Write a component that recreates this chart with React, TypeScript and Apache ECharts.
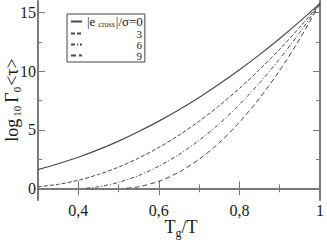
import React, { useEffect, useRef } from "react";
import * as echarts from "echarts";

// x values (Tg/T)
const tAll = [0.3, 0.35, 0.4, 0.45, 0.5, 0.55, 0.6, 0.65, 0.7, 0.75, 0.8, 0.85, 0.9, 0.95, 1.0];
const t6 = [0.42, 0.45, 0.5, 0.55, 0.6, 0.65, 0.7, 0.75, 0.8, 0.85, 0.9, 0.95, 1.0];
const t9 = [0.52, 0.55, 0.6, 0.65, 0.7, 0.75, 0.8, 0.85, 0.9, 0.95, 1.0];

// log10 Γ0<τ> for |e_cross|/σ = 0, 3, 6, 9
const v0 = [1.6, 2.1, 2.65, 3.3, 4.03, 4.85, 5.74, 6.71, 7.76, 8.9, 10.12, 11.42, 12.8, 14.26, 15.8];
const v3 = [0.13, 0.34, 0.69, 1.18, 1.81, 2.58, 3.49, 4.54, 5.73, 7.06, 8.53, 10.14, 11.88, 13.77, 15.8];
const v6 = [0.02, 0.13, 0.51, 1.09, 1.89, 2.89, 4.1, 5.52, 7.16, 9.0, 11.06, 13.32, 15.8];
const v9 = [0.01, 0.13, 0.6, 1.38, 2.48, 3.89, 5.64, 7.7, 10.08, 12.78, 15.8];

const seriesNames = ["0", "3", "6", "9"];

const xMajor = [0.4, 0.6, 0.8, 1.0];
const xMinor = [0.5, 0.7, 0.9];
const yMajor = [0, 5, 10, 15];
const yMinor = [2.5, 7.5, 12.5];

// axis titles as [text, isSubscript]
const xTitleParts: [string, boolean][] = [["T", false], ["g", true], ["/T", false]];
const yTitleParts: [string, boolean][] = [["log", false], ["10", true], ["Γ", false], ["0", true], ["<τ>", false]];

const FONT = "Liberation Serif";
const TEXT = "#1a1a1a";
const AXIS = "#7a7a7a";
const LINE = "#4a4a4a";

const zip = (xs: number[], ys: number[]) => xs.map((x, i) => [x, ys[i]]);

let ctx: CanvasRenderingContext2D | null = null;
const measure = (t: string, size: number) => {
  if (!ctx) ctx = document.createElement("canvas").getContext("2d");
  if (!ctx) return t.length * size * 0.5;
  ctx.font = `${size}px "${FONT}"`;
  return ctx.measureText(t).width;
};

// lay out a title with subscripts along a line
const layoutTitle = (parts: [string, boolean][], big: number, small: number, gapBefore: number[], center: number) => {
  const pieces = parts.map(([t, sub], i) => {
    const size = sub ? small : big;
    return { t, sub, size, w: measure(t, size), gap: gapBefore[i] || 0 };
  });
  const total = pieces.reduce((a, p) => a + p.w + p.gap, 0);
  let pos = center - total / 2;
  return pieces.map((p) => {
    pos += p.gap;
    const r = { ...p, pos };
    pos += p.w;
    return r;
  });
};

export default function App() {
  const ref = useRef<HTMLDivElement>(null);
  useEffect(() => {
    document.body.style.margin = "0";
    const chart = echarts.init(ref.current!, null, { renderer: "svg" });

    const majorTick = (vals: number[]) => ({
      show: true,
      inside: true,
      length: 7,
      customValues: vals,
      lineStyle: { color: AXIS, width: 1 },
    });
    const minorTickAxis = (vals: number[]) => ({
      show: true,
      inside: true,
      length: 4,
      customValues: vals,
      lineStyle: { color: AXIS, width: 1 },
    });

    const xBase = { type: "value", min: 0.3, max: 1, splitLine: { show: false } };
    const yBase = { type: "value", min: -1, max: 16, splitLine: { show: false } };

    const BIG = 18;
    const xPieces = layoutTitle(xTitleParts, BIG, 12, [0, 0, 0], 181);
    const xTitle = {
      type: "group",
      x: 0,
      y: 0,
      silent: true,
      children: xPieces.map((p) => ({
        type: "text",
        x: p.pos,
        y: p.sub ? 232.5 : 227,
        style: { text: p.t, fontSize: p.size, fontFamily: FONT, fill: TEXT, align: "left", verticalAlign: "middle" },
      })),
    };

    // y title rotated 90° anticlockwise, centred at y = 100
    const yPieces = layoutTitle(yTitleParts, BIG, 11, [0, 2, 3, 0, 1], -100);
    const yCenterLine = 12;
    const yTitle = {
      type: "group",
      x: 0,
      y: 0,
      rotation: Math.PI / 2,
      silent: true,
      children: yPieces.map((p) => ({
        type: "text",
        x: p.pos,
        y: p.sub ? yCenterLine + 5 : yCenterLine,
        style: { text: p.t, fontSize: p.size, fontFamily: FONT, fill: TEXT, align: "left", verticalAlign: "middle" },
      })),
    };

    const option: any = {
      animation: false,
      textStyle: { fontFamily: FONT },
      grid: { left: 38, right: 4, top: 1, bottom: 40 },
      xAxis: [
        {
          ...xBase,
          position: "bottom",
          axisLine: { show: true, lineStyle: { color: AXIS, width: 2 } },
          axisTick: majorTick(xMajor),
          axisLabel: {
            customValues: xMajor,
            formatter: (v: number) => String(Math.round(v * 10) / 10).replace(".", ","),
            fontSize: 16,
            margin: 2,
            color: TEXT,
            fontFamily: FONT,
          },
        },
        { ...xBase, position: "bottom", axisLine: { show: false }, axisTick: minorTickAxis(xMinor), axisLabel: { show: false } },
        { ...xBase, position: "top", axisLine: { show: true, lineStyle: { color: AXIS, width: 2 } }, axisTick: majorTick(xMajor), axisLabel: { show: false } },
        { ...xBase, position: "top", axisLine: { show: false }, axisTick: minorTickAxis(xMinor), axisLabel: { show: false } },
      ],
      yAxis: [
        {
          ...yBase,
          position: "left",
          axisLine: { show: true, lineStyle: { color: AXIS, width: 2 } },
          axisTick: majorTick(yMajor),
          axisLabel: { customValues: yMajor, fontSize: 16, margin: 2, color: TEXT, fontFamily: FONT },
        },
        { ...yBase, position: "left", axisLine: { show: false }, axisTick: minorTickAxis(yMinor), axisLabel: { show: false } },
        { ...yBase, position: "right", axisLine: { show: true, lineStyle: { color: AXIS, width: 2 } }, axisTick: majorTick(yMajor), axisLabel: { show: false } },
        { ...yBase, position: "right", axisLine: { show: false }, axisTick: minorTickAxis(yMinor), axisLabel: { show: false } },
      ],
      graphic: [xTitle, yTitle],
      legend: {
        orient: "vertical",
        left: 67,
        top: 14,
        padding: [1, 2, 1, 3],
        itemGap: 0,
        itemWidth: 11,
        itemHeight: 12,
        borderColor: "#444",
        borderWidth: 1,
        borderRadius: 0,
        selectedMode: false,
        itemStyle: { color: "rgba(0,0,0,0)", borderWidth: 0, opacity: 0 },
        data: seriesNames,
        formatter: (name: string) =>
          name === "0" ? "{a||e}{s|cross}{a||/σ=0}" : "{r|" + name + "}",
        textStyle: {
          fontFamily: FONT,
          color: TEXT,
          fontSize: 12,
          rich: {
            a: { fontSize: 13, lineHeight: 13, verticalAlign: "top", fontFamily: FONT, color: TEXT },
            s: { fontSize: 8, lineHeight: 8, verticalAlign: "bottom", padding: [5, 1, 0, 3], fontFamily: FONT, color: TEXT },
            r: { fontSize: 11, lineHeight: 12.5, width: 55, align: "right", fontFamily: FONT, color: TEXT },
          },
        },
      },
      series: [
        { name: "0", data: zip(tAll, v0), dash: "solid", width: 1.2 },
        { name: "3", data: zip(tAll, v3), dash: [4, 2], width: 1 },
        { name: "6", data: zip(t6, v6), dash: [4, 2, 1, 2], width: 1 },
        { name: "9", data: zip(t9, v9), dash: [5, 3], width: 1 },
      ].map((s) => ({
        type: "line",
        name: s.name,
        data: s.data,
        xAxisIndex: 0,
        yAxisIndex: 0,
        symbol: "none",
        showSymbol: false,
        smooth: 0.3,
        lineStyle: { color: LINE, width: s.width, type: s.dash },
        itemStyle: { color: LINE },
      })),
    };
    chart.setOption(option);
    return () => chart.dispose();
  }, []);
  return <div ref={ref} style={{ width: 327, height: 240 }} />;
}
